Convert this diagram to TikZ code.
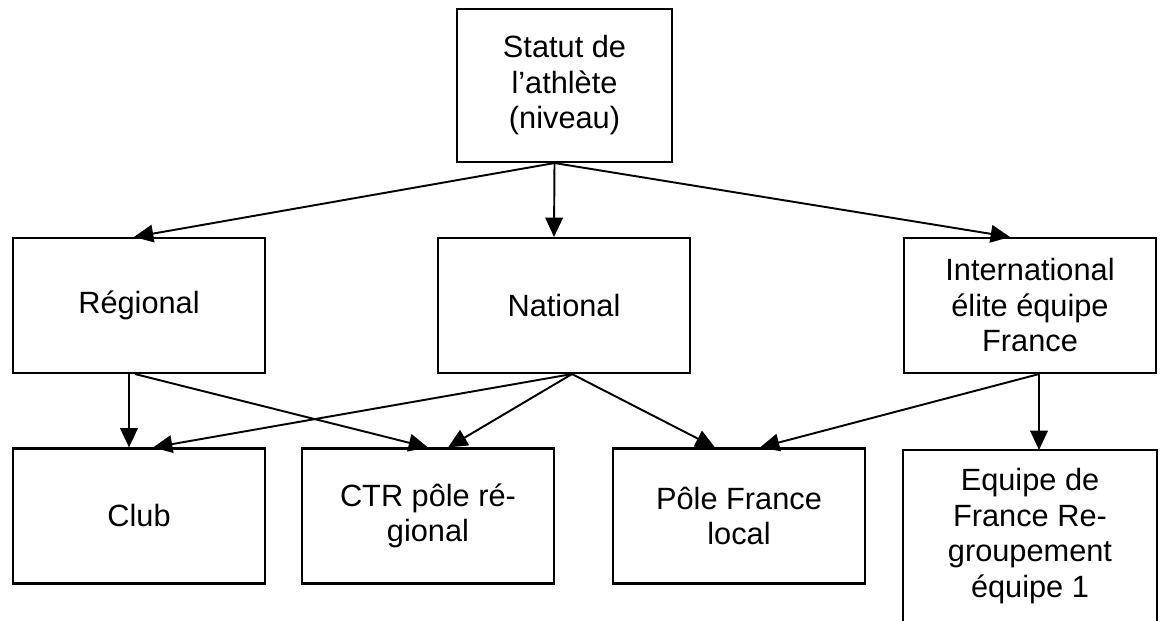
\documentclass[tikz,border=0pt]{standalone}
\usepackage{fontspec}
\setmainfont{Liberation Sans}
\usepackage{tikz}
\usetikzlibrary{arrows.meta,calc}
\tikzset{>/.tip={Triangle[length=11pt,width=10pt]},
  niveau/.style={draw, line width=1.2pt, inner sep=0pt, align=center,
    minimum width=5.04cm, minimum height=2.7cm,
    font=\fontsize{17.5}{20.2}\selectfont},
  lien/.style={->, line width=1.1pt}}

\begin{document}
\begin{tikzpicture}[x=0.02cm,y=-0.02cm]
\useasboundingbox (0,0) rectangle (1169,621);
\node[niveau, minimum width=4.3cm, minimum height=3.06cm] (statut) at (564.5,85.5) {Statut de\\l'athlète\\(niveau)};
\node[niveau] (reg) at (139,305.5)  {Régional};
\node[niveau] (nat) at (564,305.5)  {National};
\node[niveau] (int) at (1030,305.5) {International\\élite équipe\\France};
\node[niveau] (club) at (139,516)   {Club};
\node[niveau] (ctr)  at (428,516)   {CTR pôle ré-\\gional};
\node[niveau] (pole) at (739,516)   {Pôle France\\local};
\node[niveau, draw=none, anchor=north, minimum height=3.4cm] (eq) at (1030,450)
  {Equipe de\\France Re-\\groupement\\équipe 1};
\draw[line width=1.2pt] ($(eq.south west)+(0,20)$) |- (eq.north east) -- ($(eq.south east)+(0,20)$);
% du statut vers les niveaux
\draw[lien] ($(statut.south)+(-10,0)$) -- ($(reg.north)+(-5,0)$);
\draw[lien] ($(statut.south)+(-10,0)$) -- ($(nat.north)+(-10,0)$);
\draw[lien] ($(statut.south)+(-10,0)$) -- ($(int.north)+(-20,0)$);
% des niveaux vers les structures
\draw[lien] ($(reg.south)+(-10,0)$) -- ($(club.north)+(-10,0)$);
\draw[lien] ($(reg.south)+(-4,0)$) -- (ctr.north);
\draw[lien] ($(nat.south)+(8,0)$) -- ($(club.north)+(14,0)$);
\draw[lien] ($(nat.south)+(8,0)$) -- ($(ctr.north)+(20,0)$);
\draw[lien] ($(nat.south)+(8,0)$) -- ($(pole.north)+(-24,0)$);
\draw[lien] ($(int.south)+(9,0)$) -- ($(pole.north)+(21,0)$);
\draw[lien] ($(int.south)+(9,0)$) -- ($(eq.north)+(9,0)$);
\end{tikzpicture}
\end{document}
